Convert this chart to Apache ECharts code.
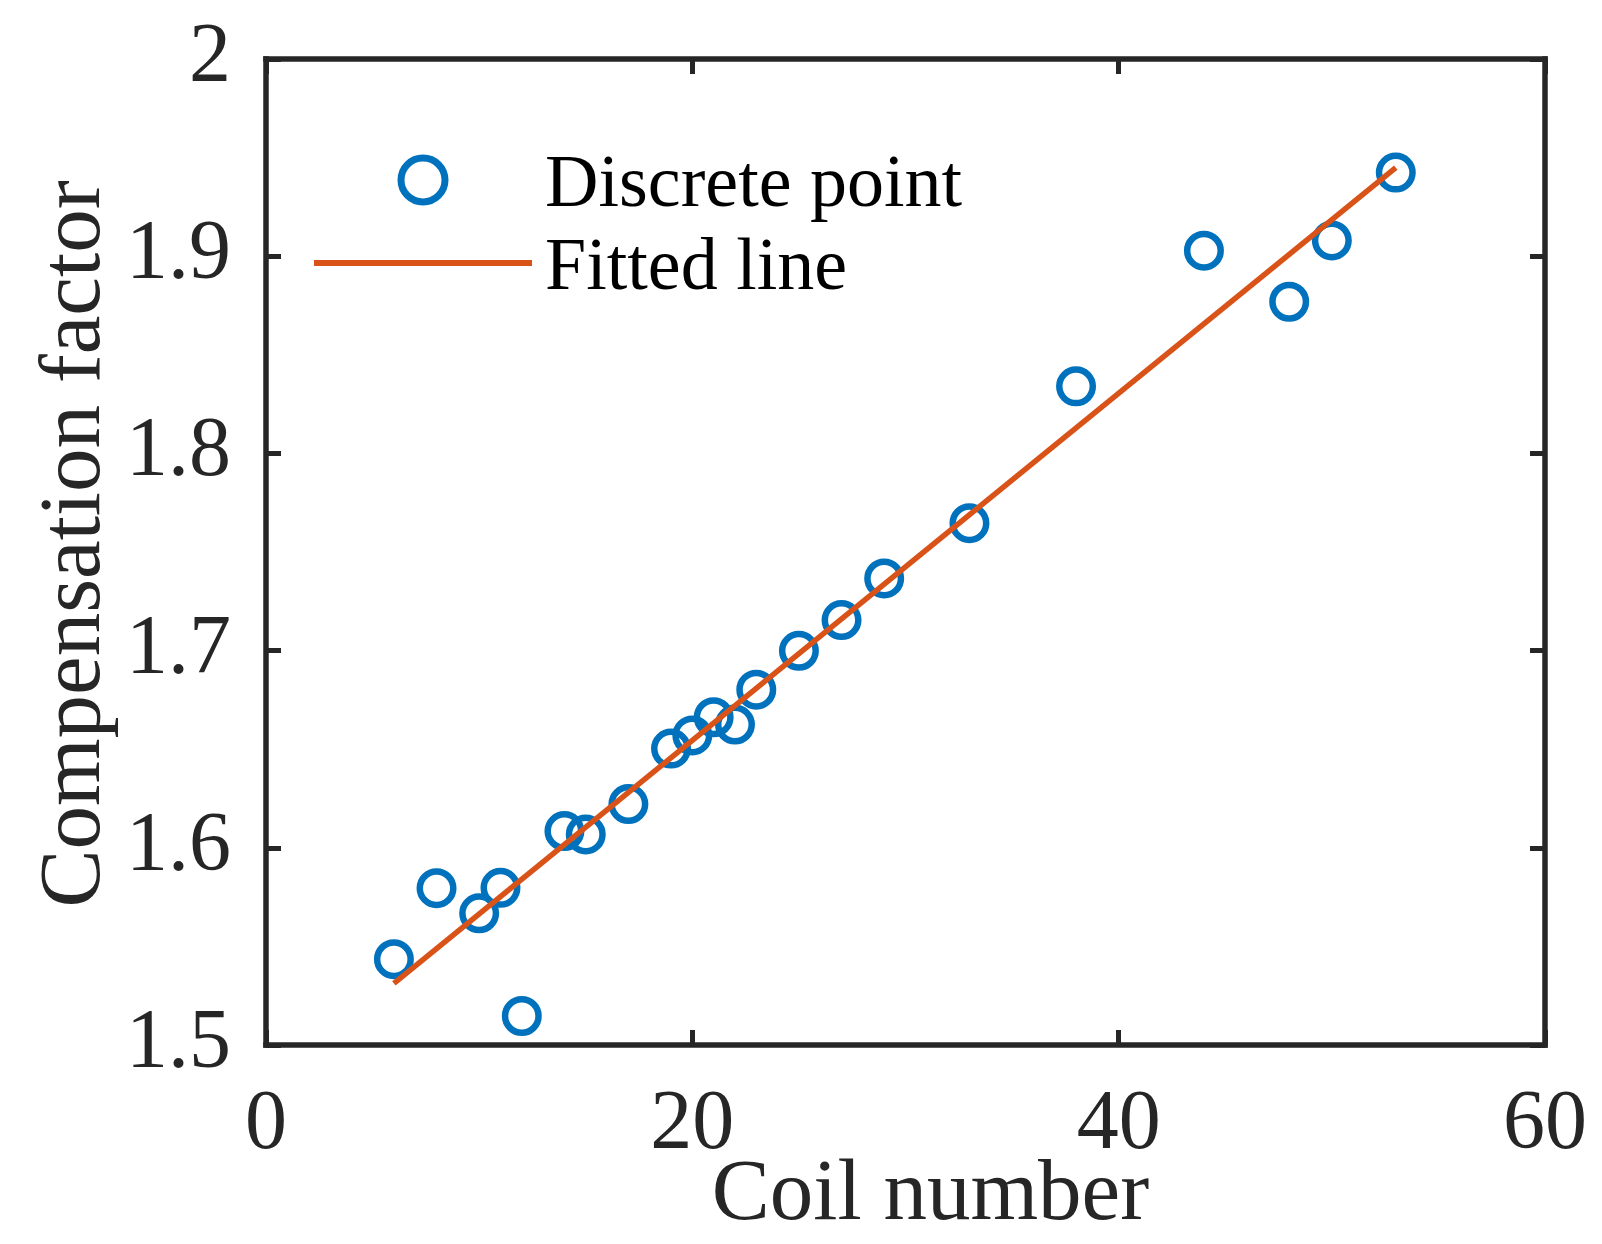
<!DOCTYPE html>
<html>
<head>
<meta charset="utf-8">
<title>Compensation factor vs coil number</title>
<script src="https://cdn.jsdelivr.net/npm/echarts@6/dist/echarts.min.js"></script>
<style>
  html, body { margin: 0; padding: 0; background: #fff; }
  #chart { width: 1602px; height: 1244px; }
</style>
</head>
<body>
<div id="chart"></div>
<script>
// measured points
var coilNumber = [6, 8, 10, 11, 12, 14, 15, 17, 19, 20, 21, 22, 23, 25, 27, 29, 33, 38, 44, 48, 50, 53];
var compFactor = [1.5435, 1.5795, 1.5668, 1.5797, 1.5147, 1.6085, 1.6068, 1.6222, 1.6503, 1.6570, 1.6662, 1.6625, 1.6802, 1.6999, 1.7155, 1.7366, 1.7646, 1.8340, 1.9028, 1.8769, 1.9080, 1.9424];

// fitted line end points
var fitX = [6, 53];
var fitY = [1.5313, 1.9449];

var xTicks = [0, 20, 40, 60];
var yTicks = [1.5, 1.6, 1.7, 1.8, 1.9, 2];

var axisColor = '#262626';
var serif = 'Liberation Serif';

var scatterData = coilNumber.map(function (x, i) { return [x, compFactor[i]]; });
var fitData = fitX.map(function (x, i) { return [x, fitY[i]]; });

function boxAxis(position, showLabel, ticks) {
    var ax = {
        type: 'value',
        position: position,
        min: ticks[0],
        max: ticks[ticks.length - 1],
        interval: ticks[1] - ticks[0],
        nameMoveOverlap: false,
        axisLine: {
            show: true,
            onZero: false,
            lineStyle: { color: axisColor, width: 5.5, cap: 'square' }
        },
        axisTick: {
            show: true,
            inside: true,
            length: 15,
            lineStyle: { color: axisColor, width: 5 }
        },
        splitLine: { show: false },
        axisLabel: { show: false }
    };
    if (showLabel) {
        ax.axisLabel = {
            show: true,
            color: axisColor,
            fontFamily: serif,
            fontSize: 84,
            formatter: function (v) { return String(+v.toFixed(1)); }
        };
    }
    return ax;
}

var xBottom = boxAxis('bottom', true, xTicks);
xBottom.axisLabel.margin = 39;
xBottom.name = 'Coil number';
xBottom.nameLocation = 'middle';
xBottom.nameGap = 108;
xBottom.nameTextStyle = { color: axisColor, fontFamily: serif, fontSize: 87, padding: [0, 0, 0, 50] };

var xTop = boxAxis('top', false, xTicks);

var yLeft = boxAxis('left', true, yTicks);
yLeft.axisLabel.margin = 35;
yLeft.axisLabel.padding = [0, 0, 16, 0];
yLeft.name = 'Compensation factor';
yLeft.nameLocation = 'middle';
yLeft.nameGap = 146;
yLeft.nameTextStyle = { color: axisColor, fontFamily: serif, fontSize: 87, padding: [0, 0, 0, 16] };

var yRight = boxAxis('right', false, yTicks);

var chart = echarts.init(document.getElementById('chart'));
chart.setOption({
    animation: false,
    backgroundColor: '#fff',
    grid: { left: 266, top: 59, right: 57, bottom: 199, containLabel: false, outerBoundsMode: 'none' },
    legend: {
        orient: 'vertical',
        left: 311,
        top: 150,
        padding: 0,
        itemGap: 9,
        itemWidth: 218,
        itemHeight: 44,
        formatter: function (name) { return '{t|' + name + '}'; },
        textStyle: {
            color: '#000',
            fontFamily: serif,
            fontSize: 74,
            rich: {
                t: { color: '#000', fontFamily: serif, fontSize: 74, lineHeight: 88, verticalAlign: 'bottom', padding: [0, 0, 0, 8] }
            }
        },
        data: [
            { name: 'Discrete point', itemStyle: { borderWidth: 7, opacity: 1 } },
            { name: 'Fitted line', itemStyle: { color: 'rgba(0,0,0,0)', borderWidth: 0, opacity: 0 }, lineStyle: { width: 6, color: '#D95319' } }
        ]
    },
    xAxis: [xBottom, xTop],
    yAxis: [yLeft, yRight],
    series: [
        {
            name: 'Discrete point',
            type: 'scatter',
            xAxisIndex: 0,
            yAxisIndex: 0,
            symbol: 'circle',
            symbolSize: 33.5,
            itemStyle: { color: 'rgba(255,255,255,0)', borderColor: '#0072BD', borderWidth: 6.5, opacity: 1 },
            data: scatterData
        },
        {
            name: 'Fitted line',
            type: 'line',
            xAxisIndex: 0,
            yAxisIndex: 0,
            symbol: 'none',
            showSymbol: false,
            itemStyle: { color: '#D95319' },
            lineStyle: { color: '#D95319', width: 5.5 },
            data: fitData
        }
    ]
});
</script>
</body>
</html>
